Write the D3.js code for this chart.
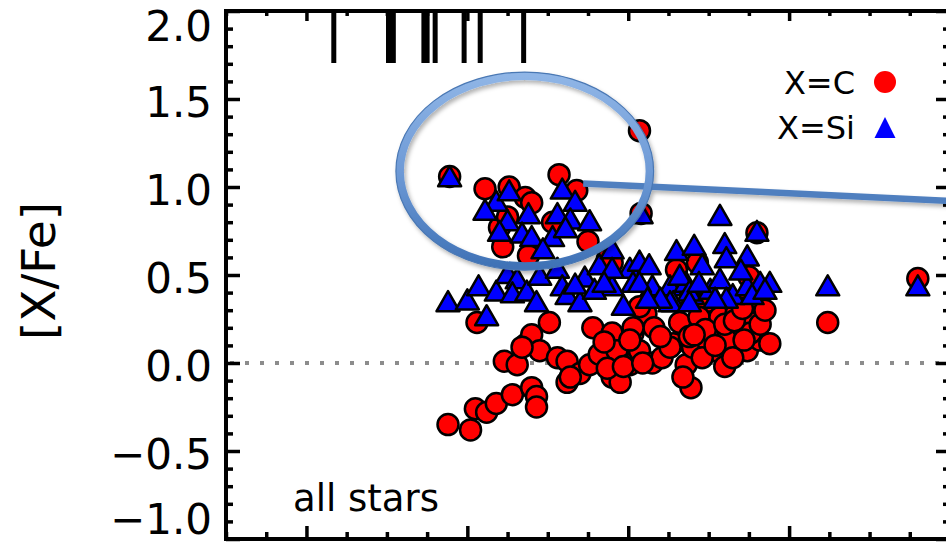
<!DOCTYPE html>
<html>
<head>
<meta charset="utf-8">
<script src="https://cdn.jsdelivr.net/npm/d3@7"></script>
<style>
  body { margin: 0; background: #fff; }
  svg { display: block; }
  text { font-family: "DejaVu Sans", sans-serif; fill: #000; }
</style>
</head>
<body>
<svg id="chart" width="946" height="544"></svg>
<script>
// [C/Fe] abundance ratios, one [x, value] pair per star
const carbon = [
  [1.89,1.06],[2.11,0.99],[2.26,1.00],[2.36,0.94],[2.40,0.91],[2.57,1.07],[2.68,0.98],[2.53,0.80],
  [2.22,0.66],[2.20,0.77],[2.25,0.83],[2.75,0.69],[2.87,0.59],[3.08,0.85],[2.38,0.61],[3.07,1.32],
  [3.80,0.74],[4.80,0.48],[4.24,0.23],[2.06,0.23],
  [2.90,0.57],[3.30,0.53],[3.43,0.57],[3.75,0.49],[3.49,0.35],[3.75,0.35],
  [1.88,-0.35],[2.02,-0.38],[2.05,-0.26],[2.12,-0.28],[2.18,-0.23],[2.28,-0.18],[2.40,-0.14],
  [2.43,-0.19],[2.43,-0.25],
  [2.23,0.01],[2.31,-0.01],[2.37,0.11],[2.40,0.16],[2.51,0.23],[2.45,0.07],[2.56,0.03],[2.62,0.01],
  [2.62,-0.11],[2.70,-0.06],[2.76,-0.01],[2.82,0.05],[2.78,0.20],[2.90,0.17],[2.93,0.07],[2.90,-0.08],
  [2.95,-0.11],[3.01,-0.01],[3.07,0.07],[3.03,0.17],[3.11,0.28],[3.16,0.20],[3.15,0.00],[3.21,0.03],
  [3.28,0.11],[3.32,0.23],[3.36,-0.01],[3.39,-0.14],[3.40,0.09],[3.49,0.13],[3.55,0.17],[3.57,0.06],
  [3.60,-0.02],[3.65,0.09],[3.69,0.19],[3.74,0.24],[3.74,0.07],[3.82,0.13],[3.88,0.11],[3.51,0.23],
  [3.44,0.26],
  [2.34,0.09],[3.03,0.20],[3.01,0.13],[2.64,-0.08],[2.87,-0.03],[2.97,-0.02],[3.09,0.00],[3.38,0.15],
  [3.07,0.32],[3.57,0.26],[3.67,0.28],[3.76,0.17],[3.61,0.13],[3.26,0.09],[3.34,-0.08],[3.46,0.03],
  [3.65,0.03],
  [3.48,0.19],[3.60,0.22],[3.72,0.13],[3.82,0.22],[3.66,0.24],[3.54,0.10],[3.41,0.16],[3.85,0.30],
  [3.71,0.31],[3.20,0.15],[2.85,0.12]
];

// [Si/Fe] abundance ratios
const silicon = [
  [1.89,1.05],[2.18,0.91],[2.26,0.97],[2.11,0.86],[2.25,0.80],[2.38,0.84],[2.20,0.74],[2.34,0.73],
  [2.40,0.71],[2.59,0.98],[2.67,0.91],[2.56,0.84],[2.64,0.81],[2.76,0.80],[2.53,0.71],[2.61,0.76],
  [2.47,0.64],[3.08,0.84],[3.57,0.83],[3.80,0.74],[4.24,0.43],[4.80,0.43],
  [1.88,0.34],[2.00,0.35],[2.07,0.43],[2.12,0.26],[2.18,0.40],[2.25,0.50],[2.31,0.47],[2.28,0.39],
  [2.37,0.40],[2.43,0.34],[2.45,0.49],[2.56,0.53],[2.59,0.43],[2.62,0.38],[2.70,0.34],[2.73,0.48],
  [2.82,0.55],[2.90,0.64],[2.90,0.43],[2.97,0.32],[3.01,0.53],[3.07,0.57],[3.13,0.55],[3.03,0.45],
  [3.15,0.43],[3.30,0.63],[3.26,0.43],[3.36,0.45],[3.40,0.38],[3.28,0.34],[3.41,0.66],[3.60,0.67],
  [3.74,0.60],[2.90,0.53],[3.26,0.34],[3.32,0.49],[3.38,0.40],[3.46,0.55],[3.51,0.41],[3.57,0.47],
  [3.61,0.59],[3.65,0.38],[3.74,0.43],[3.82,0.45],[3.88,0.45],[3.77,0.38],[3.38,0.34],[3.61,0.36],
  [3.07,0.45],[2.67,0.44],[2.79,0.41],
  [2.85,0.45],[3.20,0.36],[3.44,0.45],[3.70,0.52],[3.85,0.41],[3.54,0.36],[3.12,0.36]
];

// positions flagged along the top axis
const flagX = [1.17, 1.51, 1.54, 1.73, 1.75, 1.80, 1.98, 2.08, 2.35];

const yTicks = [-1.0, -0.5, 0.0, 0.5, 1.0, 1.5, 2.0];
const yTickLabels = ["\u22121.0", "\u22120.5", "0.0", "0.5", "1.0", "1.5", "2.0"];
const legendLabels = ["X=C", "X=Si"];
const yTitle = "[X/Fe]";
const panelLabel = "all stars";

const svg = d3.select("#chart");
const x = d3.scaleLinear().domain([0.5, 5.0]).range([226, 950]);
const y = d3.scaleLinear().domain([-1.0, 2.0]).range([539, 11]);

const defs = svg.append("defs");
const shadow = defs.append("filter").attr("id", "shadow")
  .attr("x", "-20%").attr("y", "-20%").attr("width", "140%").attr("height", "160%");
shadow.append("feDropShadow").attr("dx", 2).attr("dy", 3).attr("stdDeviation", 2)
  .attr("flood-color", "#000").attr("flood-opacity", 0.3);
const grad = defs.append("linearGradient").attr("id", "ring")
  .attr("x1", 0).attr("y1", 0).attr("x2", 0).attr("y2", 1);
grad.append("stop").attr("offset", "0").attr("stop-color", "#8fb5e6");
grad.append("stop").attr("offset", "0.5").attr("stop-color", "#6e9ad6");
grad.append("stop").attr("offset", "1").attr("stop-color", "#3f72b6");

// zero reference line
svg.append("line")
  .attr("x1", x(0.5)).attr("x2", x(5.0)).attr("y1", y(0)).attr("y2", y(0))
  .attr("stroke", "#8c8c8c").attr("stroke-width", 4).attr("stroke-dasharray", "4,11")
  .attr("stroke-dashoffset", -4);

// ticks
const yMinor = d3.range(-10, 21).map(d => d / 10).filter(d => Math.abs(d * 2 - Math.round(d * 2)) > 1e-6);
const yMajor = yTicks;
const xMinor = d3.range(2, 21).map(d => d / 4).filter(d => Math.abs(d - Math.round(d)) > 1e-6);
const xMajor = [1, 2, 3, 4, 5];

function drawAxis(axis, tx, ty) {
  const g = svg.append("g").attr("transform", `translate(${tx},${ty})`).call(axis);
  g.selectAll(".domain").remove();
  g.selectAll("line").attr("stroke", "#000").attr("stroke-width", 3.5);
  g.selectAll("text").remove();
}
drawAxis(d3.axisLeft(y).tickValues(yMinor).tickSize(-7), x(0.5), 0);
drawAxis(d3.axisLeft(y).tickValues(yMajor).tickSize(-14), x(0.5), 0);
drawAxis(d3.axisRight(y).tickValues(yMinor).tickSize(-7), x(5.0), 0);
drawAxis(d3.axisRight(y).tickValues(yMajor).tickSize(-14), x(5.0), 0);
drawAxis(d3.axisBottom(x).tickValues(xMinor).tickSize(-7), 0, y(-1));
drawAxis(d3.axisBottom(x).tickValues(xMajor).tickSize(-13), 0, y(-1));
drawAxis(d3.axisTop(x).tickValues(xMinor).tickSize(-5), 0, y(2));
drawAxis(d3.axisTop(x).tickValues(xMajor).tickSize(-10), 0, y(2));

// long flag marks hanging from the top axis
svg.append("g").selectAll("line").data(flagX).join("line")
  .attr("x1", d => x(d)).attr("x2", d => x(d))
  .attr("y1", y(2)).attr("y2", y(2) + 52)
  .attr("stroke", "#000").attr("stroke-width", 5);

// frame
svg.append("rect")
  .attr("x", x(0.5)).attr("y", y(2))
  .attr("width", x(5.0) - x(0.5)).attr("height", y(-1) - y(2))
  .attr("fill", "none").attr("stroke", "#000").attr("stroke-width", 4);

// y tick labels
svg.append("g").selectAll("text").data(yTicks).join("text")
  .attr("x", 212)
  .attr("y", d => {
    let off = 3;
    if (d === 2.0) off = 15;
    if (d === -1.0) off = -20;
    return y(d) + off;
  })
  .attr("dy", "0.365em")
  .attr("text-anchor", "end")
  .attr("font-size", 42)
  .text((d, i) => yTickLabels[i]);

// y title
svg.append("text")
  .attr("transform", `translate(${55},${271}) rotate(-90)`)
  .attr("text-anchor", "middle")
  .attr("font-size", 47)
  .text(yTitle);

// triangle marker
const triangle = {
  draw(ctx, size) {
    const w = 11.5, h = 20;
    ctx.moveTo(0, -h * 0.6);
    ctx.lineTo(w, h * 0.4);
    ctx.lineTo(-w, h * 0.4);
    ctx.closePath();
  }
};

// C markers under the Si markers
svg.append("g").selectAll("circle").data(carbon).join("circle")
  .attr("cx", d => x(d[0])).attr("cy", d => y(d[1]))
  .attr("r", 10.5)
  .attr("fill", "#ff0000").attr("stroke", "#000").attr("stroke-width", 2.5);

svg.append("g").selectAll("path").data(silicon).join("path")
  .attr("transform", d => `translate(${x(d[0])},${y(d[1])})`)
  .attr("d", d3.symbol().type(triangle)())
  .attr("fill", "#0000ff").attr("stroke", "#000").attr("stroke-width", 2.5)
  .attr("stroke-linejoin", "round");

// legend
const legend = svg.append("g");
legend.append("text").attr("x", 855).attr("y", 82).attr("dy", "0.36em")
  .attr("text-anchor", "end").attr("font-size", 32).text(legendLabels[0]);
legend.append("text").attr("x", 855).attr("y", 127).attr("dy", "0.36em")
  .attr("text-anchor", "end").attr("font-size", 32).text(legendLabels[1]);
legend.append("circle").attr("cx", 885).attr("cy", 82).attr("r", 11).attr("fill", "#ff0000");
legend.append("path").attr("transform", "translate(885,128)")
  .attr("d", "M0,-11L10.5,10L-10.5,10Z").attr("fill", "#0000ff");

// panel label
svg.append("text").attr("x", 293).attr("y", 511)
  .attr("font-size", 37).text(panelLabel);

// callout: ellipse around the C-rich group with a pointer line
const callout = svg.append("g").attr("filter", "url(#shadow)");
callout.append("line")
  .attr("x1", x(2.72)).attr("y1", y(1.02))
  .attr("x2", x(5.02)).attr("y2", y(0.92))
  .attr("stroke", "#4f7fbf").attr("stroke-width", 6.5);
callout.append("ellipse")
  .attr("cx", x(2.357)).attr("cy", y(1.09))
  .attr("rx", x(2.357 + 0.776) - x(2.357)).attr("ry", y(1.09) - y(1.09 + 0.54))
  .attr("fill", "none").attr("stroke", "url(#ring)").attr("stroke-width", 8);
callout.append("ellipse")
  .attr("cx", x(2.357)).attr("cy", y(1.09))
  .attr("rx", x(2.357 + 0.776) - x(2.357) + 4).attr("ry", y(1.09) - y(1.09 + 0.54) + 4)
  .attr("fill", "none").attr("stroke", "#4a78b4").attr("stroke-width", 1.2);
</script>
</body>
</html>
